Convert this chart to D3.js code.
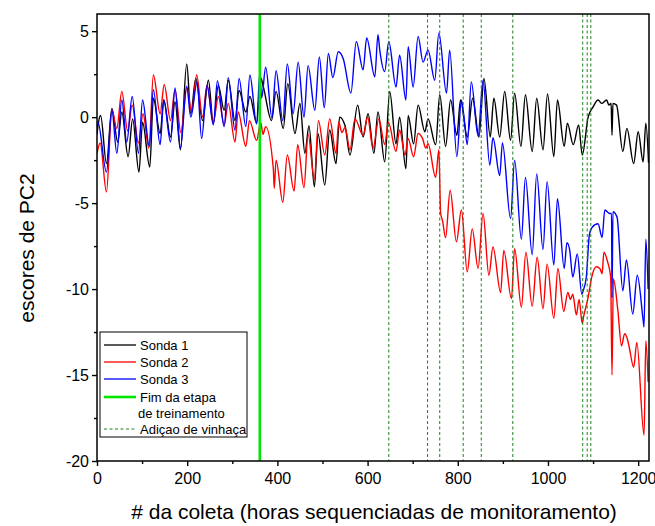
<!DOCTYPE html>
<html lang="pt-br">
<head>
  <meta charset="utf-8">
  <title>Escores de PC2</title>
  <script src="https://d3js.org/d3.v7.min.js"></script>
  <style>
    body { margin: 0; background: #fff; }
    text { font-family: "Liberation Sans", Arial, sans-serif; fill: #000; }
    .tick text { font-size: 16px; }
    .titulo { font-size: 21px; }
    .legenda text { font-size: 13px; }
  </style>
</head>
<body>
  <svg width="655" height="526"></svg>
  <script>
    // pares [# da coleta, escore] (picos e vales)
    var sonda1 = [[0,-1.0],[3,-0.35],[8,0.1],[21,-2.7],[33,0.5],[46,-1.45],[55,0.3],[69,-2.3],[79,-0.1],[93,-3.2],[101,-0.3],[117,-2.9],[125,1.1],[140,-0.95],[148,1.0],[163,-1.15],[173,0.9],[185,-1.9],[199,3.1],[208,0.2],[219,2.25],[234,-0.2],[247,2.15],[258,-0.35],[269,1.85],[282,0.4],[291,2.15],[306,-0.2],[315,1.55],[330,0.3],[339,1.2],[354,-0.35],[363,2.3],[369,1.75],[387,-0.2],[397,1.5],[413,-0.65],[423,1.95],[439,-0.95],[450,0.8],[461,-2.1],[470,-0.5],[482,-4.05],[490,-0.95],[505,-3.95],[516,-0.75],[530,-2.7],[538,0],[550,-0.5],[561,-2.2],[578,0.7],[590,-1.15],[601,0.2],[614,-2.1],[623,0.3],[638,-2.6],[649,1.5],[663,-1.55],[671,0],[685,-3.0],[690,0.1],[702,-1.55],[712,0.7],[727,-0.85],[734,-0.1],[751,-1.6],[760,1.3],[773,-1.7],[784,1.0],[798,-1.05],[806,1.0],[821,-1.15],[833,1.1],[847,-1.15],[858,2.25],[872,-1.15],[880,1.1],[893,-1.15],[904,1.5],[917,-1.35],[926,1.4],[940,-1.7],[950,1.3],[965,-2.0],[975,1.1],[989,-1.9],[999,1.35],[1013,-2.3],[1021,1.0],[1036,-1.7],[1043,-0.35],[1056,-1.6],[1068,-0.45],[1076,-2.2],[1089,0],[1100,0.6],[1111,1.0],[1119,0.8],[1130,1.0],[1135,0.7],[1140,0.8],[1142,-1.05],[1144,0.8],[1152,0.7],[1166,-2.0],[1175,-0.65],[1190,-2.7],[1200,-0.85],[1211,-2.6],[1217,-0.35],[1223,-2.65]];

    var sonda2 = [[0,-2.1],[7,-1.5],[21,-4.35],[33,0.4],[44,-0.65],[55,1.5],[68,-0.8],[78,0.7],[92,-1.5],[102,0.2],[115,-1.8],[125,2.45],[140,0.2],[149,1.9],[163,-0.2],[173,1.6],[186,-0.9],[199,1.7],[210,0.3],[221,2.45],[234,0],[244,1.85],[258,-0.3],[269,1.2],[282,-0.45],[291,0.8],[306,-1.45],[313,0.3],[330,-1.7],[338,-0.2],[354,-1.35],[363,-0.3],[368,-1.0],[374,-0.55],[391,-3.0],[393,-4.15],[397,-2.5],[412,-4.95],[422,-2.2],[437,-4.3],[445,-1.6],[459,-4.1],[468,-1.0],[482,-3.6],[491,-0.2],[505,-2.2],[516,-0.1],[530,-2.1],[536,-0.3],[543,-0.9],[550,-0.6],[561,-1.9],[572,-0.1],[590,-1.05],[600,0],[612,-1.8],[625,-0.1],[638,-1.6],[646,-0.3],[663,-2.0],[671,-0.75],[683,-2.2],[690,-1.25],[702,-2.3],[712,-0.95],[722,-1.25],[729,-1.8],[734,-1.55],[751,-3.5],[758,-1.9],[762,-5.6],[766,-6.0],[773,-7.0],[783,-4.25],[797,-7.25],[808,-5.4],[821,-9.0],[832,-6.5],[845,-8.8],[856,-5.6],[869,-9.2],[878,-7.55],[895,-10.2],[902,-7.75],[919,-10.55],[926,-7.65],[941,-11.05],[951,-7.85],[965,-11.0],[976,-8.15],[989,-11.15],[998,-8.55],[1013,-11.7],[1022,-8.8],[1035,-11.3],[1044,-10.2],[1050,-10.6],[1055,-10.3],[1063,-11.5],[1069,-10.6],[1076,-12.0],[1079,-11.6],[1089,-10.5],[1097,-9.3],[1107,-8.7],[1115,-8.8],[1120,-9.1],[1124,-7.85],[1132,-8.4],[1139,-9.3],[1142,-15.0],[1145,-9.4],[1155,-11.25],[1163,-13.3],[1170,-12.6],[1176,-12.9],[1181,-13.5],[1190,-14.55],[1197,-13.1],[1213,-18.5],[1217,-13.0],[1222,-15.4]];

    var sonda3 = [[0,-0.8],[2,-0.3],[21,-3.2],[33,0.4],[44,-2.1],[55,1.0],[66,-1.45],[78,1.2],[92,-2.1],[101,1.0],[116,-1.7],[125,1.6],[140,-1.6],[148,1.0],[163,-1.45],[173,1.7],[185,-1.8],[199,1.8],[208,0],[222,2.05],[232,-1.25],[244,1.85],[258,-0.45],[267,2.1],[282,-0.55],[291,2.3],[306,-0.75],[315,2.25],[330,-0.55],[339,2.45],[354,-0.4],[361,2.55],[365,1.1],[374,2.9],[388,-0.05],[397,2.7],[412,-0.2],[422,3.1],[435,0.2],[446,3.2],[459,0],[468,3.0],[483,0.4],[493,3.5],[504,0.55],[513,3.7],[523,2.3],[535,3.8],[546,3.4],[563,1.4],[575,4.4],[590,2.75],[598,4.6],[616,2.35],[623,4.8],[627,3.9],[638,2.65],[647,4.4],[663,1.75],[671,3.6],[685,1.0],[690,4.1],[701,1.75],[712,4.7],[723,3.2],[734,3.9],[749,2.15],[758,4.9],[775,1.4],[782,3.9],[798,-2.3],[808,1.0],[815,-0.3],[821,-1.6],[830,2.05],[845,-1.1],[856,2.15],[871,-2.8],[878,-1.2],[893,-3.4],[899,-1.5],[917,-5.9],[926,-2.5],[941,-7.1],[950,-3.5],[965,-8.0],[975,-3.3],[989,-7.7],[998,-3.75],[1013,-8.6],[1021,-4.75],[1036,-8.8],[1042,-7.3],[1048,-7.7],[1055,-9.3],[1065,-7.95],[1075,-10.3],[1078,-10.1],[1085,-9.3],[1092,-6.8],[1098,-6.4],[1111,-6.2],[1120,-7.0],[1126,-5.4],[1137,-5.6],[1141,-5.6],[1142,-10.5],[1144,-5.5],[1153,-5.8],[1166,-10.1],[1174,-8.3],[1188,-11.45],[1198,-9.2],[1211,-11.8],[1213,-12.2],[1217,-7.1],[1222,-10]];

    var fimTreinamento = 361;
    var adicaoVinhaca = [647, 733, 760, 812, 852, 922, 1077, 1087, 1095];

    var xTicks = [0, 200, 400, 600, 800, 1000, 1200];
    var xMinor = [100, 300, 500, 700, 900, 1100];
    var yTicks = [-20, -15, -10, -5, 0, 5];
    var yMinor = [-17.5, -12.5, -7.5, -2.5, 2.5];

    var legendas = ["Sonda 1", "Sonda 2", "Sonda 3", "Fim da etapa", "Adiçao de vinhaça"];

    var svg = d3.select("svg"),
      margin = {top: 14, right: 6, bottom: 65, left: 97},
      width = +svg.attr("width") - margin.left - margin.right,
      height = +svg.attr("height") - margin.top - margin.bottom,
      g = svg.append("g").attr("transform", "translate(" + margin.left + "," + margin.top + ")");

    var x = d3.scaleLinear().domain([0, 1224]).range([0, width]);
    var y = d3.scaleLinear().domain([-20, 6]).range([height, 0]);

    // rótulo com hífen comum, como no original
    var rotulo = d => String(d);

    // eixos (marcas maiores com rótulo, menores sem)
    var eixoX = g.append("g").attr("transform", "translate(0," + height + ")");
    eixoX.call(d3.axisBottom(x).tickValues(xTicks).tickSize(5).tickPadding(7).tickFormat(rotulo));
    eixoX.append("g").call(d3.axisBottom(x).tickValues(xMinor).tickSize(3).tickFormat(""));

    var eixoY = g.append("g");
    eixoY.call(d3.axisLeft(y).tickValues(yTicks).tickSize(5).tickPadding(3).tickFormat(rotulo));
    eixoY.append("g").call(d3.axisLeft(y).tickValues(yMinor).tickSize(3).tickFormat(""));

    svg.selectAll(".domain").remove();
    svg.selectAll(".tick line").attr("stroke", "#000").attr("stroke-width", 1.4);
    svg.selectAll(".tick text").attr("fill", "#000").style("font-family", "'Liberation Sans', Arial, sans-serif");
    eixoY.selectAll(".tick text").attr("dy", "0.36em");

    // séries
    var linha = d3.line()
      .x(d => x(d[0]))
      .y(d => y(d[1]))
      .curve(d3.curveMonotoneX);

    g.append("clipPath").attr("id", "area").append("rect")
      .attr("width", width).attr("height", height);

    var series = [
      {dados: sonda1, cor: "#000000"},
      {dados: sonda2, cor: "#ff0000"},
      {dados: sonda3, cor: "#0000ff"}
    ];

    g.append("g").attr("clip-path", "url(#area)")
      .selectAll("path")
      .data(series)
      .enter().append("path")
        .attr("d", d => linha(d.dados))
        .attr("fill", "none")
        .attr("stroke", d => d.cor)
        .attr("stroke-width", 1.4)
        .attr("stroke-linejoin", "round");

    // linhas verticais
    g.selectAll(".vinhaca")
      .data(adicaoVinhaca)
      .enter().append("line")
        .attr("class", "vinhaca")
        .attr("x1", d => x(d)).attr("x2", d => x(d))
        .attr("y1", 0).attr("y2", height)
        .attr("stroke", "#1f7f1f")
        .attr("stroke-width", 1)
        .attr("stroke-dasharray", "3,2.5");

    g.append("line")
      .attr("x1", x(fimTreinamento)).attr("x2", x(fimTreinamento))
      .attr("y1", 0).attr("y2", height)
      .attr("stroke", "#00e600")
      .attr("stroke-width", 2.6);

    // moldura
    g.append("rect")
      .attr("width", width).attr("height", height)
      .attr("fill", "none")
      .attr("stroke", "#000")
      .attr("stroke-width", 1.5);

    // legenda
    var leg = g.append("g").attr("class", "legenda").attr("transform", "translate(3,318)");
    leg.append("rect")
      .attr("width", 147).attr("height", 105)
      .attr("fill", "#fff").attr("stroke", "#000").attr("stroke-width", 1);

    var itens = [
      {cor: "#000000", larg: 1.3, traco: null, ty: 13},
      {cor: "#ff0000", larg: 1.3, traco: null, ty: 30},
      {cor: "#0000ff", larg: 1.3, traco: null, ty: 47},
      {cor: "#00e600", larg: 2.6, traco: null, ty: 65},
      {cor: "#1f7f1f", larg: 1, traco: "3,2.5", ty: 97}
    ];
    itens.forEach(function(it, i) {
      leg.append("line")
        .attr("x1", 4).attr("x2", 36)
        .attr("y1", it.ty).attr("y2", it.ty)
        .attr("stroke", it.cor).attr("stroke-width", it.larg)
        .attr("stroke-dasharray", it.traco);
      leg.append("text")
        .attr("x", 40).attr("y", it.ty).attr("dy", "0.36em")
        .text(legendas[i]);
    });
    leg.append("text").attr("x", 38).attr("y", 81).attr("dy", "0.36em").text("de treinamento");

    // títulos
    svg.append("text")
      .attr("class", "titulo")
      .attr("x", 374).attr("y", 519)
      .attr("text-anchor", "middle")
      .text("# da coleta (horas sequenciadas de monitoramento)");

    svg.append("text")
      .attr("class", "titulo")
      .attr("transform", "translate(34,248) rotate(-90)")
      .attr("text-anchor", "middle")
      .text("escores de PC2");
  </script>
</body>
</html>
